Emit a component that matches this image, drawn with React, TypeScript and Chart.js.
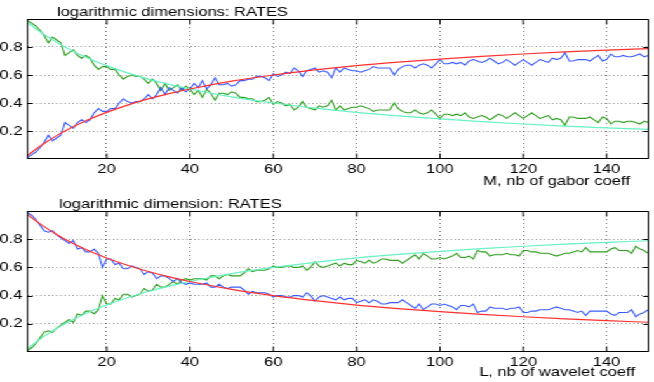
import React, { useEffect, useRef } from 'react';
import { Chart, registerables } from 'chart.js';

Chart.register(...registerables);

// ---------- data ----------
const xIndex = [
  1, 2, 3, 4, 5, 6, 7, 8, 9, 10, 11, 12, 13, 14, 15, 16, 17, 18, 19, 20,
  21, 22, 23, 24, 25, 26, 27, 28, 29, 30, 31, 32, 33, 34, 35, 36, 37, 38, 39, 40,
  41, 42, 43, 44, 45, 46, 47, 48, 49, 50, 51, 52, 53, 54, 55, 56, 57, 58, 59, 60,
  61, 62, 63, 64, 65, 66, 67, 68, 69, 70, 71, 72, 73, 74, 75, 76, 77, 78, 79, 80,
  81, 82, 83, 84, 85, 86, 87, 88, 89, 90, 91, 92, 93, 94, 95, 96, 97, 98, 99, 100,
  101, 102, 103, 104, 105, 106, 107, 108, 109, 110, 111, 112, 113, 114, 115, 116, 117, 118, 119, 120,
  121, 122, 123, 124, 125, 126, 127, 128, 129, 130, 131, 132, 133, 134, 135, 136, 137, 138, 139, 140,
  141, 142, 143, 144, 145, 146, 147, 148, 149, 150,
];

const gaborBlue = [
  0.01, 0.03, 0.05, 0.08, 0.12, 0.17, 0.13, 0.15, 0.17, 0.26,
  0.24, 0.22, 0.26, 0.28, 0.26, 0.28, 0.33, 0.36, 0.34, 0.34,
  0.36, 0.36, 0.40, 0.43, 0.41, 0.40, 0.41, 0.41, 0.43, 0.46,
  0.43, 0.46, 0.51, 0.46, 0.51, 0.49, 0.47, 0.51, 0.48, 0.50,
  0.54, 0.51, 0.56, 0.50, 0.53, 0.58, 0.53, 0.53, 0.54, 0.52,
  0.53, 0.56, 0.56, 0.57, 0.57, 0.59, 0.59, 0.58, 0.56, 0.61,
  0.59, 0.60, 0.62, 0.61, 0.65, 0.63, 0.59, 0.63, 0.64, 0.65,
  0.62, 0.63, 0.62, 0.58, 0.65, 0.62, 0.65, 0.64, 0.63, 0.63,
  0.62, 0.63, 0.64, 0.66, 0.65, 0.65, 0.65, 0.65, 0.60, 0.64,
  0.66, 0.67, 0.67, 0.65, 0.67, 0.68, 0.67, 0.65, 0.68, 0.71,
  0.68, 0.68, 0.69, 0.68, 0.69, 0.67, 0.70, 0.71, 0.70, 0.69,
  0.70, 0.72, 0.70, 0.68, 0.69, 0.71, 0.69, 0.67, 0.69, 0.71,
  0.69, 0.67, 0.69, 0.71, 0.70, 0.69, 0.72, 0.71, 0.72, 0.76,
  0.70, 0.70, 0.71, 0.71, 0.71, 0.70, 0.72, 0.74, 0.70, 0.71,
  0.75, 0.73, 0.73, 0.74, 0.73, 0.73, 0.74, 0.75, 0.73, 0.74,
];

const gaborGreen = [
  0.99, 0.97, 0.95, 0.92, 0.88, 0.83, 0.87, 0.85, 0.83, 0.74,
  0.76, 0.78, 0.74, 0.72, 0.74, 0.72, 0.67, 0.64, 0.66, 0.66,
  0.64, 0.64, 0.60, 0.57, 0.59, 0.60, 0.59, 0.59, 0.57, 0.54,
  0.57, 0.54, 0.49, 0.54, 0.49, 0.51, 0.53, 0.49, 0.52, 0.50,
  0.46, 0.49, 0.44, 0.50, 0.47, 0.42, 0.47, 0.47, 0.46, 0.48,
  0.47, 0.44, 0.44, 0.43, 0.43, 0.41, 0.41, 0.42, 0.44, 0.39,
  0.41, 0.40, 0.38, 0.39, 0.35, 0.37, 0.41, 0.37, 0.36, 0.35,
  0.38, 0.37, 0.38, 0.42, 0.35, 0.38, 0.35, 0.36, 0.37, 0.37,
  0.38, 0.37, 0.36, 0.34, 0.35, 0.35, 0.35, 0.35, 0.40, 0.36,
  0.34, 0.33, 0.33, 0.35, 0.33, 0.32, 0.33, 0.35, 0.32, 0.29,
  0.32, 0.32, 0.31, 0.32, 0.31, 0.33, 0.30, 0.29, 0.30, 0.31,
  0.30, 0.28, 0.30, 0.32, 0.31, 0.29, 0.31, 0.33, 0.31, 0.29,
  0.31, 0.33, 0.31, 0.29, 0.30, 0.31, 0.28, 0.29, 0.28, 0.24,
  0.30, 0.30, 0.29, 0.29, 0.29, 0.30, 0.28, 0.26, 0.30, 0.29,
  0.25, 0.27, 0.27, 0.26, 0.27, 0.27, 0.26, 0.25, 0.27, 0.26,
];

const waveletBlue = [
  0.99, 0.97, 0.94, 0.90, 0.86, 0.85, 0.86, 0.83, 0.81, 0.79,
  0.77, 0.79, 0.73, 0.74, 0.71, 0.71, 0.73, 0.70, 0.60, 0.66,
  0.66, 0.62, 0.63, 0.59, 0.59, 0.61, 0.60, 0.59, 0.55, 0.57,
  0.56, 0.52, 0.54, 0.54, 0.52, 0.50, 0.52, 0.49, 0.48, 0.49,
  0.48, 0.48, 0.48, 0.49, 0.46, 0.46, 0.48, 0.46, 0.45, 0.46,
  0.46, 0.46, 0.44, 0.41, 0.43, 0.42, 0.42, 0.42, 0.41, 0.39,
  0.40, 0.40, 0.39, 0.39, 0.40, 0.40, 0.39, 0.42, 0.40, 0.36,
  0.39, 0.40, 0.39, 0.38, 0.37, 0.39, 0.37, 0.38, 0.38, 0.35,
  0.36, 0.37, 0.35, 0.37, 0.36, 0.34, 0.34, 0.35, 0.35, 0.35,
  0.37, 0.35, 0.33, 0.31, 0.34, 0.30, 0.32, 0.34, 0.34, 0.33,
  0.34, 0.33, 0.32, 0.30, 0.33, 0.33, 0.32, 0.34, 0.28, 0.29,
  0.29, 0.32, 0.31, 0.31, 0.31, 0.30, 0.31, 0.31, 0.32, 0.28,
  0.28, 0.29, 0.29, 0.30, 0.30, 0.30, 0.31, 0.32, 0.31, 0.30,
  0.30, 0.29, 0.28, 0.29, 0.26, 0.29, 0.29, 0.29, 0.29, 0.29,
  0.27, 0.26, 0.28, 0.28, 0.28, 0.30, 0.25, 0.27, 0.28, 0.30,
];

const waveletGreen = [
  0.01, 0.03, 0.06, 0.10, 0.14, 0.15, 0.14, 0.17, 0.19, 0.21,
  0.23, 0.21, 0.27, 0.26, 0.29, 0.29, 0.27, 0.30, 0.40, 0.34,
  0.34, 0.38, 0.37, 0.41, 0.41, 0.39, 0.40, 0.41, 0.45, 0.43,
  0.44, 0.48, 0.46, 0.46, 0.48, 0.50, 0.48, 0.51, 0.52, 0.51,
  0.52, 0.52, 0.52, 0.51, 0.54, 0.54, 0.52, 0.54, 0.55, 0.54,
  0.54, 0.54, 0.56, 0.59, 0.57, 0.58, 0.58, 0.58, 0.59, 0.61,
  0.60, 0.60, 0.61, 0.61, 0.60, 0.60, 0.61, 0.58, 0.60, 0.64,
  0.61, 0.60, 0.61, 0.62, 0.63, 0.61, 0.63, 0.62, 0.62, 0.65,
  0.64, 0.63, 0.65, 0.63, 0.64, 0.66, 0.66, 0.65, 0.65, 0.65,
  0.63, 0.65, 0.67, 0.69, 0.66, 0.70, 0.68, 0.66, 0.66, 0.67,
  0.66, 0.67, 0.68, 0.70, 0.67, 0.67, 0.68, 0.66, 0.72, 0.71,
  0.71, 0.68, 0.69, 0.69, 0.69, 0.70, 0.69, 0.69, 0.68, 0.72,
  0.72, 0.71, 0.71, 0.70, 0.70, 0.70, 0.69, 0.68, 0.69, 0.70,
  0.70, 0.71, 0.72, 0.71, 0.74, 0.71, 0.71, 0.71, 0.71, 0.71,
  0.73, 0.74, 0.72, 0.72, 0.72, 0.70, 0.75, 0.73, 0.72, 0.70,
];

// smooth reference curves, sampled at these x positions
const smoothX = [1, 3, 5, 8, 10, 15, 20, 25, 30, 35, 40, 50, 60, 70, 80, 90, 100, 110, 120, 130, 140, 150];
const smoothRise = [0.024, 0.070, 0.111, 0.167, 0.200, 0.273, 0.333, 0.385, 0.429, 0.467, 0.500, 0.556, 0.600, 0.636, 0.667, 0.692, 0.714, 0.733, 0.750, 0.765, 0.778, 0.789];
const smoothFall = [0.976, 0.930, 0.889, 0.833, 0.800, 0.727, 0.667, 0.615, 0.571, 0.533, 0.500, 0.444, 0.400, 0.364, 0.333, 0.308, 0.286, 0.267, 0.250, 0.235, 0.222, 0.211];

const xTicks = [20, 40, 60, 80, 100, 120, 140];
const yTicks = [0.2, 0.4, 0.6, 0.8];
const yTickLabels = ['0.2', '0.4', '0.6', '0.8'];

const topTitle = 'logarithmic dimensions: RATES';
const topXLabel = 'M, nb of gabor coeff';
const bottomTitle = 'logarithmic dimension: RATES';
const bottomXLabel = 'L, nb of wavelet coeff';

// ---------- styling ----------
const CANVAS_W = 515;
const STRETCH = 654 / CANVAS_W;
const FONT = '"Liberation Sans", Arial, Helvetica, sans-serif';
const BLUE = '#3a5cff';
const GREEN = '#2ea01e';
const RED = '#ff3030';
const CYAN = '#66f2c4';

const matlabFrame = {
  id: 'matlabFrame',
  afterDraw(chart: any, _args: any, opts: any) {
    const { ctx, chartArea: a, scales } = chart;
    ctx.save();
    ctx.strokeStyle = '#000';
    ctx.lineWidth = 1;
    const top = Math.round(a.top) + 0.5;
    const bottom = Math.round(a.bottom) - 0.5;
    ctx.strokeRect(a.left, top, a.right - a.left, bottom - top);
    ctx.beginPath();
    for (const v of xTicks) {
      const px = scales.x.getPixelForValue(v);
      ctx.moveTo(px, bottom);
      ctx.lineTo(px, bottom - 5);
      ctx.moveTo(px, top);
      ctx.lineTo(px, top + 5);
    }
    for (const v of yTicks) {
      const py = Math.round(scales.y.getPixelForValue(v)) + 0.5;
      ctx.moveTo(a.left, py);
      ctx.lineTo(a.left + 4, py);
      ctx.moveTo(a.right, py);
      ctx.lineTo(a.right - 4, py);
    }
    ctx.stroke();
    ctx.fillStyle = '#000';
    ctx.font = `13px ${FONT}`;
    ctx.textBaseline = 'middle';
    ctx.textAlign = 'left';
    ctx.fillText(opts.title, opts.titleX, opts.titleY);
    ctx.textAlign = 'right';
    ctx.fillText(opts.xLabel, opts.xLabelX, opts.xLabelY);
    ctx.restore();
  },
};

function buildConfig(p: any) {
  const pts = (xs: number[], ys: number[]) => xs.map((x, i) => ({ x, y: ys[i] }));
  return {
    type: 'line',
    data: {
      datasets: [
        { label: 'red', data: pts(smoothX, p.red), borderColor: RED, borderWidth: 1.2, pointRadius: 0, cubicInterpolationMode: 'monotone', fill: false },
        { label: 'cyan', data: pts(smoothX, p.cyan), borderColor: CYAN, borderWidth: 1.2, pointRadius: 0, cubicInterpolationMode: 'monotone', fill: false },
        { label: 'blue', data: pts(xIndex, p.blue), borderColor: BLUE, borderWidth: 1.1, pointRadius: 0, tension: 0, fill: false },
        { label: 'green', data: pts(xIndex, p.green), borderColor: GREEN, borderWidth: 1.1, pointRadius: 0, tension: 0, fill: false },
      ],
    },
    options: {
      responsive: false,
      animation: false,
      events: [],
      layout: { padding: { top: p.padTop, right: 4.5, left: 0, bottom: 0 } },
      plugins: {
        legend: { display: false },
        tooltip: { enabled: false },
        title: { display: false },
        matlabFrame: {
          title: p.title,
          titleX: p.titleX,
          titleY: p.titleY,
          xLabel: p.xLabel,
          xLabelX: p.xLabelX,
          xLabelY: p.xLabelY,
        },
      },
      scales: {
        x: {
          type: 'linear',
          min: 1,
          max: 150,
          afterBuildTicks: (s: any) => {
            s.ticks = xTicks.map((v) => ({ value: v }));
          },
          afterFit: (s: any) => {
            s.height = p.xAxisH;
          },
          ticks: {
            autoSkip: false,
            maxRotation: 0,
            padding: p.xTickPad,
            color: '#000',
            font: { family: FONT, size: 13 },
            callback: (v: any) => String(v),
          },
          grid: { drawTicks: false, color: 'rgba(0,0,0,0.55)', lineWidth: 1 },
          border: { display: false, dash: [1, 3] },
        },
        y: {
          type: 'linear',
          min: 0,
          max: 1,
          afterBuildTicks: (s: any) => {
            s.ticks = yTicks.map((v) => ({ value: v }));
          },
          afterFit: (s: any) => {
            s.width = 21.65;
          },
          ticks: {
            padding: 4,
            color: '#000',
            font: { family: FONT, size: 13 },
            callback: (_v: any, i: number) => yTickLabels[i],
          },
          grid: { drawTicks: false, color: 'rgba(0,0,0,0.55)', lineWidth: 1 },
          border: { display: false, dash: [0.8, 2.4] },
        },
      },
    },
    plugins: [matlabFrame],
  };
}

function Panel(props: { cfg: any; height: number }) {
  const ref = useRef<HTMLCanvasElement | null>(null);
  useEffect(() => {
    if (!ref.current) return;
    const chart = new Chart(ref.current, props.cfg);
    return () => chart.destroy();
  }, []);
  return <canvas ref={ref} width={CANVAS_W} height={props.height} style={{ display: 'block' }} />;
}

export default function App() {
  const topCfg = buildConfig({
    red: smoothRise,
    cyan: smoothFall,
    blue: gaborBlue,
    green: gaborGreen,
    padTop: 19,
    xAxisH: 31,
    xTickPad: 3,
    title: topTitle,
    titleX: 44.9,
    titleY: 12.7,
    xLabel: topXLabel,
    xLabelX: 496,
    xLabelY: 181.7,
  });
  const bottomCfg = buildConfig({
    red: smoothFall,
    cyan: smoothRise,
    blue: waveletBlue,
    green: waveletGreen,
    padTop: 21,
    xAxisH: 30,
    xTickPad: 2.5,
    title: bottomTitle,
    titleX: 46.5,
    titleY: 14,
    xLabel: bottomXLabel,
    xLabelX: 500,
    xLabelY: 182.7,
  });
  return (
    <div
      style={{
        position: 'absolute',
        left: 0,
        top: 0,
        width: CANVAS_W,
        height: 382,
        transform: `scaleX(${STRETCH})`,
        transformOrigin: '0 0',
        background: '#fff',
      }}
    >
      <Panel cfg={topCfg} height={190} />
      <Panel cfg={bottomCfg} height={192} />
    </div>
  );
}
